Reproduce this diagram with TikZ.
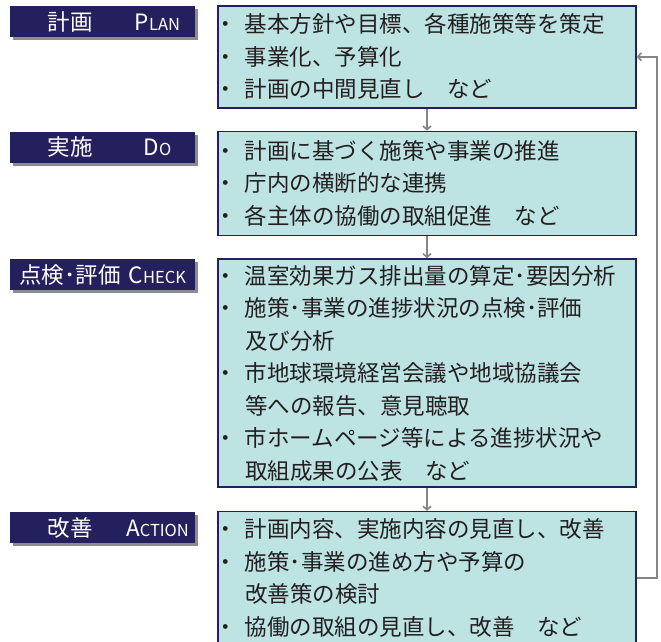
\documentclass[tikz,border=0pt]{standalone}
\usepackage{fontspec}
\setmainfont{Noto Sans CJK JP}
\usepackage{xcolor}
\usetikzlibrary{arrows.meta,positioning,shadows}
\definecolor{pdcaNavy}{HTML}{241F5D}
\definecolor{pdcaTeal}{HTML}{BEE3E3}
\definecolor{pdcaGray}{HTML}{858585}
\definecolor{pdcaShadow}{HTML}{8C8C8C}
\definecolor{pdcaInk}{HTML}{231F20}
\tikzset{
  flow/.style={-{Straight Barb[length=3.5pt,width=8pt]}, line width=1.6pt,
    draw=pdcaGray},
  stage label/.style={fill=pdcaNavy, text=white, text width=185pt,
    minimum height=31pt, inner sep=0pt, align=left,
    font=\fontsize{22.5pt}{24pt}\selectfont,
    drop shadow={shadow xshift=2.5pt, shadow yshift=-3pt,
      fill=pdcaShadow, opacity=1}},
  task box/.style={draw=pdcaNavy, line width=1.6pt, fill=pdcaTeal,
    text=pdcaInk, text width=414pt, inner xsep=2pt, inner ysep=0pt,
    align=left, font=\fontsize{22.5pt}{32.5pt}\selectfont}
}
\newcommand{\itm}[1]{\makebox[25pt][l]{\hspace*{-6pt}・}#1}
\newcommand{\cont}[1]{\hspace*{25pt}#1}
\newcommand{\stagetext}[2]{\makebox[120pt]{#1}\makebox[55pt]{#2}}
\newcommand{\capsmall}[2]{{\fontsize{22.5pt}{24pt}\selectfont #1}{\fontsize{16.5pt}{18pt}\selectfont #2}}

\begin{document}
\begin{tikzpicture}
  \useasboundingbox (0,0) rectangle (661pt,-641pt);
  % content boxes
  \node[task box, minimum height=102pt, anchor=north] (planbox) at (427pt,-5pt)
    {\itm{基本方針や目標、各種施策等を策定}\\
     \itm{事業化、予算化}\\
     \itm{計画の中間見直し　など}};
  \node[task box, minimum height=104pt, below=22pt of planbox] (dobox)
    {\itm{計画に基づく施策や事業の推進}\\
     \itm{庁内の横断的な連携}\\
     \itm{各主体の協働の取組促進　など}};
  \node[task box, minimum height=228pt, below=22pt of dobox] (checkbox)
    {\itm{温室効果ガス排出量の算定･要因分析}\\
     \itm{施策･事業の進捗状況の点検･評価}\\
     \cont{及び分析}\\
     \itm{市地球環境経営会議や地域協議会}\\
     \cont{等への報告、意見聴取}\\
     \itm{市ホームページ等による進捗状況や}\\
     \cont{取組成果の公表　など}};
  \node[task box, minimum height=133pt, below=23pt of checkbox] (actbox)
    {\itm{計画内容、実施内容の見直し、改善}\\
     \itm{施策･事業の進め方や予算の}\\
     \cont{改善策の検討}\\
     \itm{協働の取組の見直し、改善　など}};
  % stage labels
  \node[stage label, left=22pt of planbox.north west, anchor=north east,
    yshift=-1pt] (planlabel) {\stagetext{計画}{\capsmall{P}{LAN}}};
  \node[stage label, left=22pt of dobox.north west, anchor=north east,
    yshift=-1pt] (dolabel) {\stagetext{実施}{\capsmall{D}{O}}};
  \node[stage label, left=22pt of checkbox.north west, anchor=north east,
    yshift=-1pt] (checklabel) {\stagetext{点検･評価}{\capsmall{C}{HECK}}};
  \node[stage label, left=22pt of actbox.north west, anchor=north east,
    yshift=-1pt] (actlabel) {\stagetext{改善}{\capsmall{A}{CTION}}};
  % arrows
  \draw[flow] (planbox) -- (dobox);
  \draw[flow] (dobox) -- (checkbox);
  \draw[flow] (checkbox) -- (actbox);
  \draw[flow] (actbox.east) -- ++(20pt,0) |- (planbox.east);
\end{tikzpicture}
\end{document}
